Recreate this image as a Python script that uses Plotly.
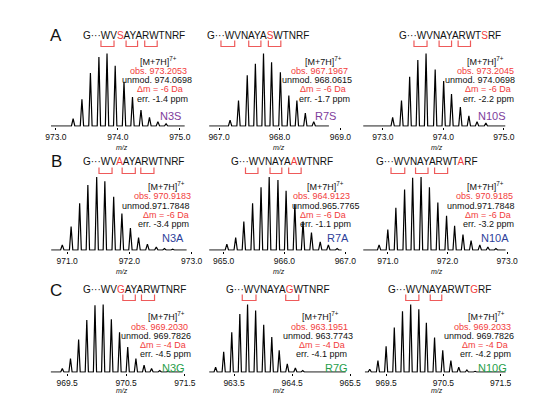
import plotly.graph_objects as go

W, H = 533, 394

# ---------------- data: isotope peaks (m/z, relative intensity %) ----------------
A1_mz = [973.279, 973.421, 973.558, 973.695, 973.826, 973.958, 974.100, 974.237, 974.374, 974.511, 974.647, 974.779]
A1_int = [10, 37, 73, 95, 100, 83, 61, 40, 22, 12, 6, 3]
A2_mz = [967.182, 967.321, 967.465, 967.599, 967.733, 967.866, 968.011, 968.150, 968.283, 968.422, 968.561]
A2_int = [8, 35, 70, 86, 100, 88, 74, 42, 35, 18, 6]
A3_mz = [973.162, 973.308, 973.443, 973.578, 973.714, 973.865, 974.005, 974.135, 974.281, 974.422, 974.557, 974.703]
A3_int = [12, 35, 68, 91, 100, 78, 62, 44, 26, 14, 6, 4]
B1_mz = [970.921, 971.063, 971.200, 971.332, 971.474, 971.605, 971.747, 971.879, 972.016, 972.147, 972.289, 972.432, 972.563, 972.695]
B1_int = [7, 32, 64, 89, 100, 94, 73, 50, 30, 17, 8, 4, 2, 1]
B2_mz = [964.920, 965.053, 965.198, 965.332, 965.476, 965.615, 965.749, 965.893, 966.027, 966.171, 966.305, 966.444, 966.588, 966.722, 966.866]
B2_int = [1, 8, 17, 39, 64, 86, 100, 96, 81, 63, 39, 24, 11, 7, 2]
B3_mz = [970.854, 971.000, 971.135, 971.281, 971.416, 971.557, 971.697, 971.838, 971.984, 972.119, 972.259, 972.395, 972.541, 972.676, 972.811]
B3_int = [7, 28, 58, 83, 99, 100, 86, 65, 47, 33, 21, 13, 7, 4, 2]
C1_mz = [969.278, 969.417, 969.556, 969.694, 969.833, 969.972, 970.111, 970.250, 970.389, 970.528, 970.667, 970.806, 970.933, 971.072, 971.211]
C1_int = [1, 5, 20, 48, 77, 99, 100, 78, 59, 37, 20, 10, 5, 2, 1]
C2_mz = [963.183, 963.322, 963.461, 963.600, 963.733, 963.872, 964.011, 964.150, 964.278, 964.417, 964.556, 964.683, 964.822, 964.961]
C2_int = [7, 30, 59, 86, 100, 91, 70, 52, 32, 12, 6, 2, 1, 1]
C3_mz = [969.214, 969.357, 969.500, 969.643, 969.786, 969.929, 970.071, 970.203, 970.346, 970.489, 970.631, 970.769, 970.911, 971.054, 971.197]
C3_int = [4, 17, 38, 66, 90, 100, 93, 73, 51, 32, 17, 7, 3, 1, 1]

# ---------------- tick labels ----------------
A1_ticks = [973.0, 974.0, 975.0]
A2_ticks = [967.0, 968.0, 969.0]
A3_ticks = [973.0, 974.0, 975.0]
B1_ticks = [971.0, 972.0, 973.0]
B2_ticks = [965.0, 966.0, 967.0]
B3_ticks = [971.0, 972.0, 973.0]
C1_ticks = [969.5, 970.5, 971.5]
C2_ticks = [963.5, 964.5, 965.5]
C3_ticks = [969.5, 970.5, 971.5]

# ---------------- annotation texts ----------------
mutants = ["N3S", "R7S", "N10S", "N3A", "R7A", "N10A", "N3G", "R7G", "N10G"]
obs_mz = ["973.2053", "967.1967", "973.2045", "970.9183", "964.9123", "970.9185", "969.2030", "963.1951", "969.2033"]
unmod_txt = ["unmod. 974.0698", "unmod. 968.0615", "unmod. 974.0698",
             "unmod.971.7848", "unmod.965.7765", "unmod.971.7848",
             "unmod. 969.7826", "unmod. 963.7743", "unmod. 969.7826"]
delta_m = ["-6", "-6", "-6", "-6", "-6", "-6", "-4", "-4", "-4"]
err_ppm = ["-1.4", "-1.7", "-2.2", "-3.4", "-1.1", "-3.2", "-4.5", "-4.1", "-4.2"]
seq_pre = ["G\u00b7\u00b7\u00b7WV", "G\u00b7\u00b7\u00b7WVNAYA", "G\u00b7\u00b7\u00b7WVNAYARWT"] * 3
seq_mut = ["S", "S", "S", "A", "A", "A", "G", "G", "G"]
seq_post = ["AYARWTNRF", "WTNRF", "RF"] * 3
row_letters = ["A", "B", "C"]

spectra = [(A1_mz, A1_int), (A2_mz, A2_int), (A3_mz, A3_int),
           (B1_mz, B1_int), (B2_mz, B2_int), (B3_mz, B3_int),
           (C1_mz, C1_int), (C2_mz, C2_int), (C3_mz, C3_int)]
tick_sets = [A1_ticks, A2_ticks, A3_ticks, B1_ticks, B2_ticks, B3_ticks, C1_ticks, C2_ticks, C3_ticks]

# ---------------- layout / styling (pixels) ----------------
RED = "#f23c3c"
BRK = "#ee5a5a"
MUT_COL = ["#7d3c9c"] * 3 + ["#2e3f9a"] * 3 + ["#1f9e4a"] * 3
col_dom = [(38, 190), (198, 350), (356, 515)]
x_ranges = [(972.862, 975.269), (966.757, 969.215), (972.611, 975.190),
            (970.680, 973.077), (964.682, 967.134), (970.523, 973.136),
            (969.162, 971.695), (962.988, 965.556), (969.032, 971.757)]
base_ext = [(972.921, 975.079), (966.838, 968.811), (972.676, 975.024),
            (970.743, 972.919), (964.763, 966.940), (970.589, 972.972),
            (969.223, 971.462), (963.073, 965.421), (969.130, 971.586)]
row_base = [118, 242, 364]
row_h100 = [72.5, 73, 67.5]
row_mz_y = [139, 263, 382]
row_letter_y = [27, 154, 282]
row_seq_y = [27, 154, 281]
seq_x = [72.7, 199, 394.3, 72.7, 223.3, 370.7, 72.7, 218.3, 383.3]
brackets = [[(92.7, 106), (118.3, 130), (137.3, 150)],
            [(215, 229), (243.3, 255.7), (263.3, 276)],
            [(411.7, 425), (437.3, 450), (456.7, 469.3)],
            [(90.7, 104), (114.3, 127.7), (133.3, 146.7)],
            [(240, 252.7), (265, 277), (284, 296.7)],
            [(388.3, 402.3), (413.3, 426), (432.7, 446)],
            [(115, 127.7), (134, 147.3)],
            [(236.7, 250.7), (281, 294.3)],
            [(403.3, 416.7), (428.3, 440)]]
text_x = [[151.7, 151.5, 149.8, 153, 155, 163.3],
          [320, 315.8, 313.3, 319.2, 320.8, 321.7],
          [484.2, 484.2, 479.2, 487.5, 487.5, 490.8],
          [160, 155.8, 149, 159, 156.7, 165.8],
          [321.7, 317.2, 321.7, 319.2, 321.7, 334.2],
          [485, 483.3, 479.7, 487.5, 487.5, 494.2],
          [159.5, 152, 149, 155.5, 158.5, 166.5],
          [316.7, 315.3, 314.2, 317.8, 317.8, 332.5],
          [486, 482, 478, 484, 485, 492]]
row_text_y = [[53, 63, 72, 81, 91, 107.5],
              [178.3, 188.3, 197.7, 206.7, 215.7, 229.5],
              [308, 318.5, 328, 337, 346, 359.5]]

FONT = "Arial, Liberation Sans, Helvetica, sans-serif"
HW = 0.027  # half width of a drawn peak in m/z

def px(x):
    return x / W

def py(y):
    return 1 - y / H

fig = go.Figure()
layout = {}
annotations = []
shapes = []

for i in range(9):
    r, c = divmod(i, 3)
    sfx = "" if i == 0 else str(i + 1)
    mz, inten = spectra[i]
    lo, hi = base_ext[i]
    xs, ys = [lo], [0]
    for m, h in zip(mz, inten):
        xs += [m - HW, m, m + HW]
        ys += [0, h, 0]
    xs.append(hi)
    ys.append(0)
    fig.add_trace(go.Scatter(x=xs, y=ys, mode="lines",
                             line=dict(color="black", width=1.2),
                             xaxis="x" + sfx, yaxis="y" + sfx,
                             hoverinfo="skip", showlegend=False))
    scale = row_h100[r] / 100.0
    ylo, yhi = -1, 105
    dom_bot = row_base[r] + (0 - ylo) * scale
    dom_top = row_base[r] - yhi * scale
    ticks = tick_sets[i]
    layout["xaxis" + sfx] = dict(
        domain=[px(col_dom[c][0]), px(col_dom[c][1])], range=list(x_ranges[i]),
        anchor="y" + sfx, tickvals=ticks, ticktext=[f"{t:.1f}" for t in ticks],
        ticks="outside", ticklen=2, tickwidth=1, tickcolor="black",
        showline=False, showgrid=False, zeroline=False,
        tickfont=dict(family=FONT, size=8.5, color="#111"), fixedrange=True)
    layout["yaxis" + sfx] = dict(domain=[py(dom_bot), py(dom_top)], range=[ylo, yhi],
                                 anchor="x" + sfx, visible=False, fixedrange=True)

    # m/z axis title
    annotations.append(dict(x=px((col_dom[c][0] + col_dom[c][1]) / 2), y=py(row_mz_y[r]),
                            text="<i>m/z</i>", showarrow=False, xref="paper", yref="paper",
                            font=dict(family=FONT, size=7, color="#111"),
                            xanchor="center", yanchor="middle", borderpad=0))
    # sequence
    seq = (seq_pre[i] + f"<span style='color:{RED}'>" + seq_mut[i] + "</span>" + seq_post[i])
    annotations.append(dict(x=px(seq_x[i]), y=py(row_seq_y[r]), text=seq, showarrow=False,
                            xref="paper", yref="paper", xanchor="left", yanchor="middle",
                            font=dict(family=FONT, size=10, color="#111")))
    # brackets
    bt = row_seq_y[r] + 5.5
    bb = bt + 6
    for (x0, x1) in brackets[i]:
        shapes.append(dict(type="path", xref="paper", yref="paper",
                           path=f"M {px(x0)},{py(bt)} L {px(x0)},{py(bb)} L {px(x1)},{py(bb)} L {px(x1)},{py(bt)}",
                           line=dict(color=BRK, width=1.2)))
    # info text block
    lines = ["[M+7H]<sup>7+</sup>", "obs. " + obs_mz[i], unmod_txt[i],
             "\u0394m = " + delta_m[i] + " Da", "err. " + err_ppm[i] + " ppm", mutants[i]]
    colors = ["#111", RED, "#111", RED, "#111", MUT_COL[i]]
    sizes = [9, 9, 9, 9, 9, 11]
    for k in range(6):
        annotations.append(dict(x=px(text_x[i][k]), y=py(row_text_y[r][k]), text=lines[k],
                                showarrow=False, xref="paper", yref="paper",
                                xanchor="center", yanchor="middle", borderpad=0,
                                font=dict(family=FONT, size=sizes[k], color=colors[k])))

for r in range(3):
    annotations.append(dict(x=px(47), y=py(row_letter_y[r]), text=row_letters[r], showarrow=False,
                            xref="paper", yref="paper", xanchor="center", yanchor="middle",
                            font=dict(family=FONT, size=17, color="#111")))

fig.update_layout(width=W, height=H, margin=dict(l=0, r=0, t=0, b=0),
                  paper_bgcolor="white", plot_bgcolor="white",
                  annotations=annotations, shapes=shapes, showlegend=False, **layout)

fig.write_html("out.html", config={"displayModeBar": False})
